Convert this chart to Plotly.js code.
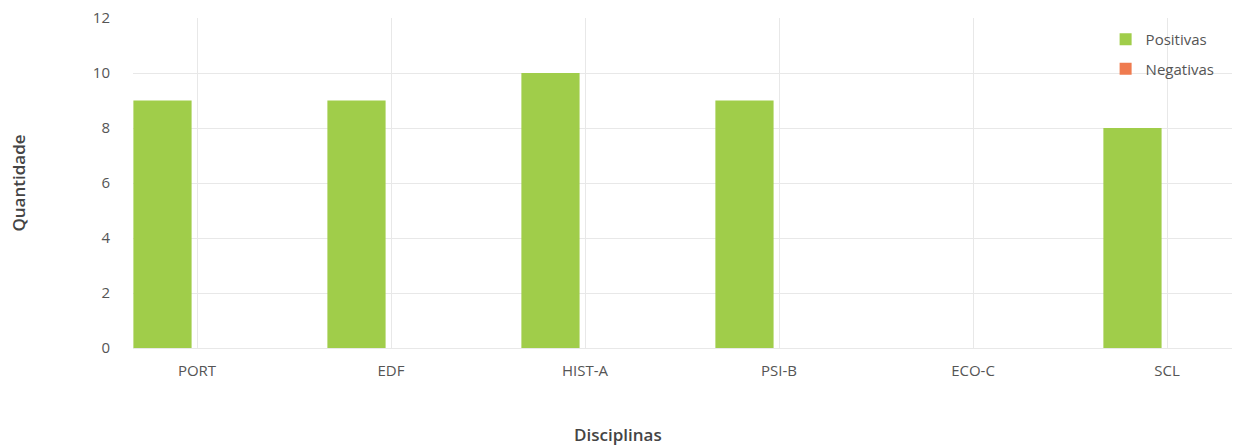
<!DOCTYPE html>
<html>
<head>
<meta charset="utf-8">
<script src="https://cdn.plot.ly/plotly-3.0.1.min.js"></script>
<style>html,body{margin:0;padding:0;background:#fff;}#chart{width:1234px;height:448px;}</style>
</head>
<body>
<div id="chart"></div>
<script>
const categories = ["PORT", "EDF", "HIST-A", "PSI-B", "ECO-C", "SCL"];
const positivas = [9, 9, 10, 9, 0, 8];
const negativas = [0, 0, 0, 0, 0, 0];
const seriesNames = ["Positivas", "Negativas"];
const yTicks = [0, 2, 4, 6, 8, 10, 12];

const FONT = "'Open Sans', 'Noto Sans', sans-serif";

const traces = [
  {
    type: "bar", name: seriesNames[0], x: categories, y: positivas,
    width: 0.3, offset: -0.328, legendgroup: "pos",
    marker: { color: "#a0cd4a", line: { width: 0 } },
    hoverinfo: "x+y+name"
  },
  {
    type: "bar", name: seriesNames[1], x: categories, y: negativas,
    width: 0.3, offset: 0.028, legendgroup: "neg",
    marker: { color: "#ef7b4f", line: { width: 0 } },
    hoverinfo: "x+y+name"
  }
];

const layout = {
  width: 1234, height: 448,
  margin: { l: 133, r: 2, t: 18, b: 100 },
  paper_bgcolor: "#ffffff", plot_bgcolor: "#ffffff",
  font: { family: FONT, size: 15, color: "#555" },
  barmode: "group",
  showlegend: true,
  legend: {
    x: 0.885, y: 0.985, xanchor: "left", yanchor: "top",
    bgcolor: "rgba(0,0,0,0)", font: { family: FONT, size: 15, color: "#555" },
    itemwidth: 30, tracegroupgap: 7
  },
  xaxis: {
    type: "category", range: [-0.33, 5.335],
    showgrid: true, gridcolor: "#e8e8e8", gridwidth: 1,
    showline: false, zeroline: false, ticks: "",
    ticklabelstandoff: 12,
    tickfont: { family: FONT, size: 15, color: "#555" },
    fixedrange: true
  },
  yaxis: {
    range: [0, 12], tickvals: yTicks, ticktext: yTicks.map(String),
    showgrid: true, gridcolor: "#e8e8e8", gridwidth: 1,
    zeroline: true, zerolinecolor: "#e8e8e8", zerolinewidth: 1,
    showline: false, ticks: "",
    ticklabelstandoff: 22,
    tickfont: { family: FONT, size: 15, color: "#555" },
    title: { text: "Quantidade", standoff: 62, font: { family: FONT, size: 17, color: "#444", weight: 600 } },
    fixedrange: true
  },
  annotations: [
    {
      text: "Disciplinas", xref: "paper", yref: "paper",
      x: (618 - 133) / 1099, y: -(434 - 348) / 330,
      xanchor: "center", yanchor: "middle", showarrow: false,
      font: { family: FONT, size: 17, color: "#444", weight: 600 }
    }
  ],
  bargap: 0.3
};

Plotly.newPlot("chart", traces, layout, { displayModeBar: false, responsive: false });
</script>
</body>
</html>
